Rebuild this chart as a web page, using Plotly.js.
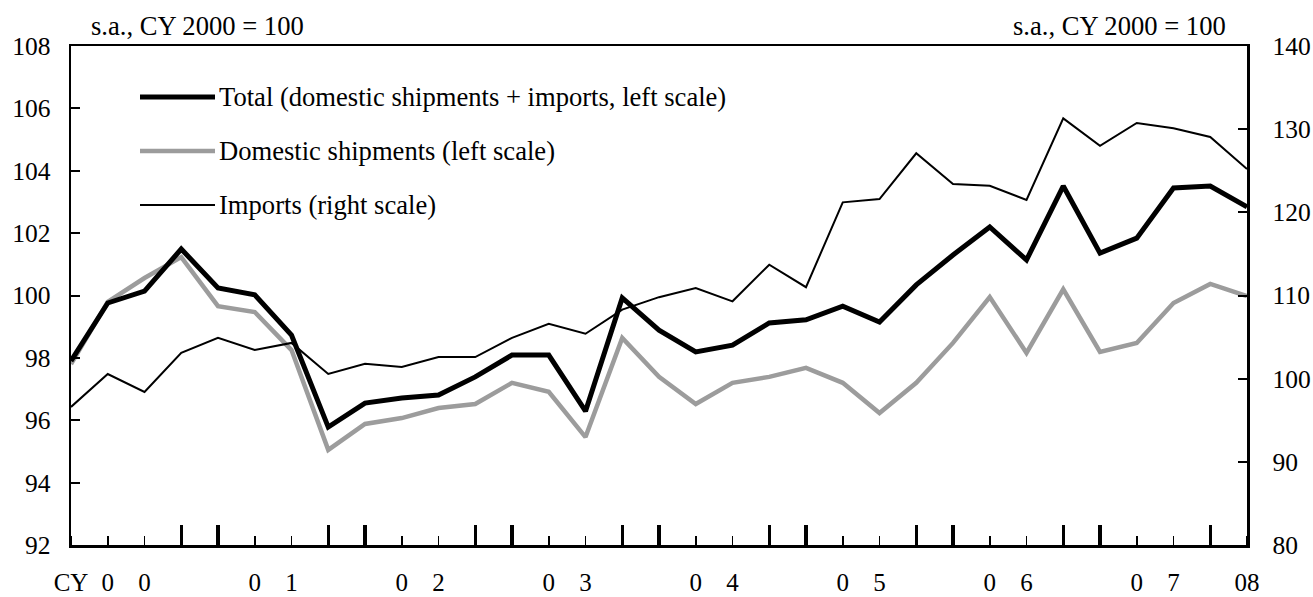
<!DOCTYPE html>
<html>
<head>
<meta charset="utf-8">
<script src="https://cdn.plot.ly/plotly-3.0.1.min.js"></script>
<style>html,body{margin:0;padding:0;background:#fff;}#chart{width:1313px;height:597px;}</style>
</head>
<body>
<div id="chart"></div>
<script>
// Quarters 2000Q1 .. 2008Q1
const quarters = [];
for (let y = 2000; y <= 2008; y++) for (let q = 1; q <= 4; q++) { if (y === 2008 && q > 1) break; quarters.push(y + "Q" + q); }

// Total (domestic shipments + imports), left scale
const total = [97.9, 99.76, 100.14, 101.49, 100.24, 100.02, 98.73, 95.78, 96.55, 96.71, 96.81, 97.39, 98.09, 98.09, 96.29, 99.92, 98.89, 98.19, 98.41, 99.12, 99.22, 99.66, 99.15, 100.34, 101.3, 102.2, 101.14, 103.51, 101.36, 101.84, 103.45, 103.51, 102.84];
// Domestic shipments, left scale
const domestic = [97.8, 99.8, 100.56, 101.23, 99.66, 99.47, 98.25, 95.05, 95.88, 96.07, 96.39, 96.52, 97.2, 96.91, 95.46, 98.64, 97.39, 96.52, 97.2, 97.39, 97.68, 97.2, 96.23, 97.2, 98.48, 99.95, 98.16, 100.2, 98.19, 98.48, 99.76, 100.37, 99.98];
// Imports, right scale
const imports = [96.6, 100.56, 98.4, 103.1, 104.9, 103.45, 104.3, 100.56, 101.8, 101.4, 102.6, 102.6, 104.9, 106.6, 105.4, 108.3, 109.8, 110.9, 109.3, 113.7, 111.0, 121.2, 121.6, 127.1, 123.4, 123.2, 121.5, 131.3, 128.0, 130.74, 130.1, 129.06, 125.2];

// x-axis labels (quarter where each piece of text sits)
const xLabelQuarters = ["2000Q1","2000Q2","2000Q3","2001Q2","2001Q3","2002Q2","2002Q3","2003Q2","2003Q3","2004Q2","2004Q3","2005Q2","2005Q3","2006Q2","2006Q3","2007Q2","2007Q3","2008Q1"];
const xLabelText     = ["CY","0","0","0","1","0","2","0","3","0","4","0","5","0","6","0","7","08"];
// long tick marks at year boundaries
const longTickQuarters = ["2000Q4","2001Q1","2001Q4","2002Q1","2002Q4","2003Q1","2003Q4","2004Q1","2004Q4","2005Q1","2005Q4","2006Q1","2006Q4","2007Q1","2007Q4"];

const seriesNames = ["Total (domestic shipments + imports, left scale)", "Domestic shipments (left scale)", "Imports (right scale)"];
const unitText = "s.a., CY 2000 = 100";

const idx = q => quarters.indexOf(q);
const xs = quarters.map((q, i) => i);
const FONT = "'Liberation Serif', 'Times New Roman', serif";
const GRAY = "#9c9c9c";

const traces = [
  {x: xs, y: domestic, text: quarters, name: seriesNames[1], type: "scatter", mode: "lines", line: {color: GRAY, width: 4.5}, xaxis: "x", yaxis: "y", showlegend: false},
  {x: xs, y: imports, text: quarters, name: seriesNames[2], type: "scatter", mode: "lines", line: {color: "#000", width: 2}, xaxis: "x", yaxis: "y2", showlegend: false},
  {x: xs, y: total, text: quarters, name: seriesNames[0], type: "scatter", mode: "lines", line: {color: "#000", width: 5}, xaxis: "x", yaxis: "y", showlegend: false}
];

const L = 71, R = 1247, T = 46, B = 545, W = 1313, H = 597;
const px = v => (v - L) / (R - L);
const py = v => (B - v) / (B - T);

const legendRows = [
  {name: seriesNames[0], color: "#000", width: 5, y: 97},
  {name: seriesNames[1], color: GRAY, width: 4.5, y: 151},
  {name: seriesNames[2], color: "#000", width: 2, y: 205}
];

const shapes = legendRows.map(r => ({type: "line", xref: "paper", yref: "paper", x0: px(140), x1: px(215), y0: py(r.y), y1: py(r.y), line: {color: r.color, width: r.width}}));
const annotations = legendRows.map(r => ({xref: "paper", yref: "paper", x: px(217), y: py(r.y), xanchor: "left", yanchor: "middle", text: r.name, showarrow: false, font: {family: FONT, size: 26.6, color: "#000"}}));
annotations.push({xref: "paper", yref: "paper", x: px(89), y: py(43), xanchor: "left", yanchor: "bottom", text: unitText, showarrow: false, font: {family: FONT, size: 26.6, color: "#000"}});
annotations.push({xref: "paper", yref: "paper", x: px(1228), y: py(43), xanchor: "right", yanchor: "bottom", text: unitText, showarrow: false, font: {family: FONT, size: 26.6, color: "#000"}});

const layout = {
  width: W, height: H,
  margin: {l: L, r: W - R, t: T, b: H - B, pad: 0},
  paper_bgcolor: "#fff", plot_bgcolor: "#fff",
  font: {family: FONT, size: 25, color: "#000"},
  showlegend: false,
  xaxis: {
    range: [0, 32], showgrid: false, zeroline: false,
    showline: true, linecolor: "#000", linewidth: 2.5, mirror: true,
    tickmode: "array", tickvals: xLabelQuarters.map(idx), ticktext: xLabelText,
    ticks: "", ticklen: 0, ticklabelstandoff: 13,
    tickfont: {family: FONT, size: 25, color: "#000"},
    minor: {tickmode: "linear", tick0: 0, dtick: 1, ticks: "inside", ticklen: 9, tickwidth: 1.5, tickcolor: "#000", showgrid: false}
  },
  xaxis2: {
    overlaying: "x", anchor: "y", side: "bottom", range: [0, 32], showgrid: false, zeroline: false,
    showline: false, tickmode: "array", tickvals: longTickQuarters.map(idx),
    ticks: "inside", ticklen: 20, tickwidth: 3.5, tickcolor: "#000", showticklabels: false
  },
  yaxis: {
    range: [92, 108], dtick: 2, tick0: 92, showgrid: false, zeroline: false,
    showline: true, linecolor: "#000", linewidth: 2.5,
    ticks: "inside", ticklen: 9, tickwidth: 2, tickcolor: "#000",
    ticklabelstandoff: 13, tickfont: {family: FONT, size: 25.5, color: "#000"}
  },
  yaxis2: {
    overlaying: "y", side: "right", anchor: "x", range: [80, 140], dtick: 10, tick0: 80,
    showgrid: false, zeroline: false, showline: true, linecolor: "#000", linewidth: 2.5,
    ticks: "inside", ticklen: 9, tickwidth: 2, tickcolor: "#000",
    ticklabelstandoff: 18, tickfont: {family: FONT, size: 25.5, color: "#000"}
  },
  shapes: shapes,
  annotations: annotations
};

// empty helper trace so the second x-axis (long year ticks) is drawn
traces.unshift({x: [0], y: [null], xaxis: "x2", yaxis: "y", type: "scatter", mode: "lines", showlegend: false, hoverinfo: "skip"});

Plotly.newPlot("chart", traces, layout, {displayModeBar: false, staticPlot: true});
</script>
</body>
</html>
